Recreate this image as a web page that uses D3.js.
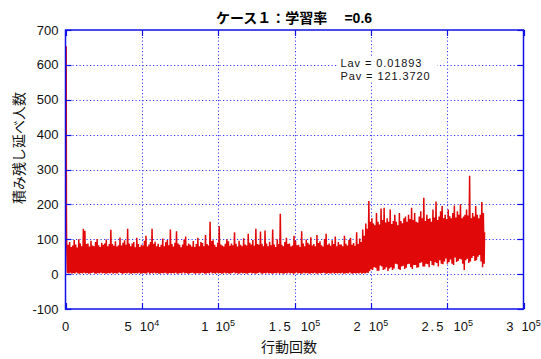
<!DOCTYPE html>
<html>
<head>
<meta charset="utf-8">
<script src="https://cdn.jsdelivr.net/npm/d3@7"></script>
<style>
  body { margin: 0; background: #fff; }
  svg text { font-family: "Liberation Sans", Arial, sans-serif; }
</style>
</head>
<body>
<svg id="chart" width="541" height="359"></svg>
<script>
// ---- data ----------------------------------------------------------
const titleText = "ケース１：学習率\u3000 ";
const titleValue = "=0.6";
const xLabel = "行動回数";
const yLabel = "積み残し延べ人数";
const statLines = ["Lav = 0.01893", "Pav = 121.3720"];

const xTicks = [0, 50000, 100000, 150000, 200000, 250000, 300000];
const xTickMantissa = ["0", "5", "1", "1.5", "2", "2.5", "3"];
const xTickExponent = ["", "4", "5", "5", "5", "5", "5"];
const yTicks = [-100, 0, 100, 200, 300, 400, 500, 600, 700];

// opening transient (step, value)
const openSteps = [0, 450, 520, 600];
const openValues = [655, 650, 420, 180];

// per-1000-step window: highest and lowest value of the series
const windowSize = 1000;
const windowPeaks = [
  105, 84, 92, 78, 82, 98, 85, 76, 100, 88,
  80, 130, 124, 86, 88, 79, 96, 82, 80, 92,
  101, 83, 78, 90, 84, 88, 99, 80, 86, 127,
  86, 81, 94, 79, 83, 105, 82, 90, 97, 84,
  130, 88, 80, 88, 92, 77, 104, 86, 78, 84,
  82, 96, 110, 79, 85, 92, 130, 87, 93, 80,
  87, 78, 84, 102, 80, 91, 98, 83, 128, 86,
  79, 90, 123, 88, 84, 77, 85, 99, 108, 81,
  88, 84, 79, 95, 78, 86, 104, 80, 92, 89,
  80, 112, 86, 82, 150, 95, 97, 84, 78, 90,
  137, 85, 82, 79, 87, 100, 94, 81, 88, 83,
  120, 87, 79, 96, 84, 80, 103, 85, 82, 116,
  90, 85, 98, 81, 130, 86, 84, 122, 87, 80,
  125, 88, 80, 93, 83, 128, 85, 78, 100, 86,
  173, 84, 80, 92, 104, 86, 88, 79, 82, 110,
  96, 83, 84, 78, 123, 88, 80, 99, 90, 85,
  106, 82, 86, 80, 112, 89, 94, 83, 79, 101,
  116, 84, 88, 81, 97, 86, 108, 80, 92, 85,
  85, 80, 110, 87, 82, 98, 104, 84, 89, 81,
  120, 86, 102, 92, 128, 110, 145, 130,
  210, 150, 160, 145, 140, 175, 150, 142, 188, 155,
  190, 148, 160, 150, 185, 144, 152, 170, 150, 140,
  175, 152, 146, 160, 165, 150, 170, 158, 190, 155,
  175, 150, 148, 165, 180, 160, 219, 152, 170, 158,
  160, 150, 185, 162, 208, 155, 165, 180, 195, 160,
  170, 158, 185, 166, 160, 175, 197, 162, 180, 170,
  200, 160, 165, 170, 185, 168, 282, 160, 175, 165,
  195, 170, 160, 170, 207, 175
];
const windowTroughs = [
  3, 2, 4, 1, 3, 2, 5, 2, 1, 3,
  2, 4, 2, 3, 1, 2, 3, 5, 2, 1,
  3, 2, 4, 2, 3, 1, 2, 3, 2, 4,
  1, 3, 2, 2, 5, 3, 1, 2, 3, 2,
  4, 2, 1, 3, 2, 3, 2, 4, 1, 2,
  3, 2, 2, 5, 1, 3, 2, 4, 2, 3,
  1, 2, 3, 2, 4, 2, 1, 3, 2, 3,
  2, 4, 1, 2, 3, 2, 5, 2, 3, 1,
  2, 3, 4, 2, 1, 3, 2, 2, 4, 3,
  1, 2, 3, 2, 5, 2, 3, 1, 4, 2,
  3, 1, 2, 4, 2, 3, 1, 2, 3, 5,
  2, 3, 1, 2, 4, 2, 3, 2, 1, 3,
  4, 2, 3, 1, 2, 3, 5, 2, 1, 3,
  2, 4, 2, 3, 1, 2, 3, 2, 4, 1,
  3, 2, 1, 3, 2, 4, 2, 3, 1, 2,
  5, 2, 3, 1, 2, 4, 2, 3, 2, 1,
  3, 2, 4, 2, 1, 3, 2, 3, 4, 2,
  1, 3, 2, 2, 4, 1, 3, 2, 3, 2,
  4, 1, 2, 3, 2, 5, 2, 1, 3, 2,
  3, 2, 4, 1, 3, 2, 4, 3,
  8, 14, 12, 20, 18, 10, 10, 25, 22, 12,
  14, 20, 9, 16, 20, 12, 16, 30, 28, 15,
  12, 22, 24, 15, 18, 28, 30, 20, 15, 26,
  26, 18, 20, 32, 34, 22, 22, 30, 28, 20,
  38, 26, 25, 34, 32, 22, 40, 30, 28, 36,
  45, 30, 35, 42, 30, 26, 48, 35, 38, 44,
  42, 30, 12, 40, 44, 32, 36, 46, 52, 38,
  40, 50, 55, 36, 20, 30
];
const lastStep = 274500;
const lastValue = 120;

// ---- layout --------------------------------------------------------
const svg = d3.select("#chart");
const plot = { left: 65.5, right: 523.5, top: 30, bottom: 309 };
const blue = "#1010e8";
const gridBlue = "#3a3aff";

const x = d3.scaleLinear().domain([0, 300000]).range([plot.left, plot.right]);
const y = d3.scaleLinear().domain([-100, 700]).range([plot.bottom, plot.top]);

// grid
const grid = svg.append("g").attr("stroke", gridBlue).attr("stroke-width", 1)
  .attr("stroke-dasharray", "1.2,2.3").attr("fill", "none");
grid.selectAll("line.gy").data(yTicks.slice(1, -1)).join("line")
  .attr("x1", plot.left).attr("x2", plot.right)
  .attr("y1", d => Math.round(y(d)) + 0.5).attr("y2", d => Math.round(y(d)) + 0.5);
grid.selectAll("line.gx").data(xTicks.slice(1, -1)).join("line")
  .attr("y1", plot.top).attr("y2", plot.bottom)
  .attr("x1", d => Math.round(x(d)) + 0.5).attr("x2", d => Math.round(x(d)) + 0.5);

// series: opening transient, then an alternating high / low trace per window
const series = [];
openSteps.forEach((s, i) => series.push([s, openValues[i]]));
windowPeaks.forEach((p, i) => {
  series.push([i * windowSize + 700, p]);
  series.push([i * windowSize + 1200, windowTroughs[i]]);
});
series.push([lastStep, lastValue]);

svg.append("path")
  .datum(series)
  .attr("fill", "none")
  .attr("stroke", "#e00808")
  .attr("stroke-width", 1.5)
  .attr("stroke-linejoin", "miter")
  .attr("d", d3.line().x(d => x(d[0])).y(d => y(d[1])));

// statistics box
const statBox = svg.append("g").attr("transform", "translate(340.5,67)");
statBox.append("rect").attr("x", -3).attr("y", -11).attr("width", 100).attr("height", 26)
  .attr("fill", "#fff");
const statText = statBox.append("text").attr("font-size", 11).attr("fill", "#111")
  .attr("letter-spacing", "0.9px");
statText.selectAll("tspan").data(statLines).join("tspan")
  .attr("x", 0).attr("dy", (d, i) => i === 0 ? 0 : 12.5)
  .text(d => d);

// frame
svg.append("rect")
  .attr("x", plot.left).attr("y", plot.top)
  .attr("width", plot.right - plot.left).attr("height", plot.bottom - plot.top)
  .attr("fill", "none").attr("stroke", blue).attr("stroke-width", 1.5);

// inward ticks on all four sides
const tickLen = 6;
const ticks = svg.append("g").attr("stroke", blue).attr("stroke-width", 1.2);
xTicks.forEach(v => {
  const px = Math.round(x(v)) + 0.5;
  ticks.append("line").attr("x1", px).attr("x2", px).attr("y1", plot.bottom).attr("y2", plot.bottom - tickLen);
  ticks.append("line").attr("x1", px).attr("x2", px).attr("y1", plot.top).attr("y2", plot.top + tickLen);
});
yTicks.forEach(v => {
  const py = Math.round(y(v)) + 0.5;
  ticks.append("line").attr("x1", plot.left).attr("x2", plot.left + tickLen).attr("y1", py).attr("y2", py);
  ticks.append("line").attr("x1", plot.right).attr("x2", plot.right - tickLen).attr("y1", py).attr("y2", py);
});

// y tick labels
svg.append("g").selectAll("text").data(yTicks).join("text")
  .attr("x", 58.5).attr("y", d => y(d)).attr("dy", "0.35em")
  .attr("text-anchor", "end").attr("font-size", 13).attr("fill", "#111")
  .text(d => d);

// x tick labels: mantissa, power of ten with superscript exponent
const xl = svg.append("g").selectAll("text").data(xTicks).join("text")
  .attr("x", d => x(d)).attr("y", 331)
  .attr("text-anchor", "middle").attr("font-size", 13).attr("fill", "#111");
xl.each(function (d, i) {
  const t = d3.select(this);
  t.append("tspan").attr("letter-spacing", xTickMantissa[i].includes(".") ? "2px" : null)
    .text(xTickMantissa[i]);
  if (xTickExponent[i]) {
    t.append("tspan").attr("dx", 8).text("10");
    t.append("tspan").attr("dy", -5).attr("font-size", 9).text(xTickExponent[i]);
  }
});

// title
const title = svg.append("text").attr("x", 294).attr("y", 23)
  .attr("text-anchor", "middle").attr("font-weight", "bold").attr("font-size", 14).attr("fill", "#000");
title.append("tspan").style("font-family", "'Noto Sans CJK JP', sans-serif").text(titleText);
title.append("tspan").text(titleValue);

// axis titles
svg.append("text").attr("x", 289).attr("y", 352)
  .attr("text-anchor", "middle").attr("font-size", 14).attr("fill", "#111")
  .style("font-family", "'Noto Sans CJK JP', sans-serif").text(xLabel);
svg.append("text").attr("transform", "translate(24,148) rotate(-90)")
  .attr("text-anchor", "middle").attr("font-size", 14).attr("fill", "#111")
  .style("font-family", "'Noto Sans CJK JP', sans-serif").text(yLabel);
</script>
</body>
</html>
